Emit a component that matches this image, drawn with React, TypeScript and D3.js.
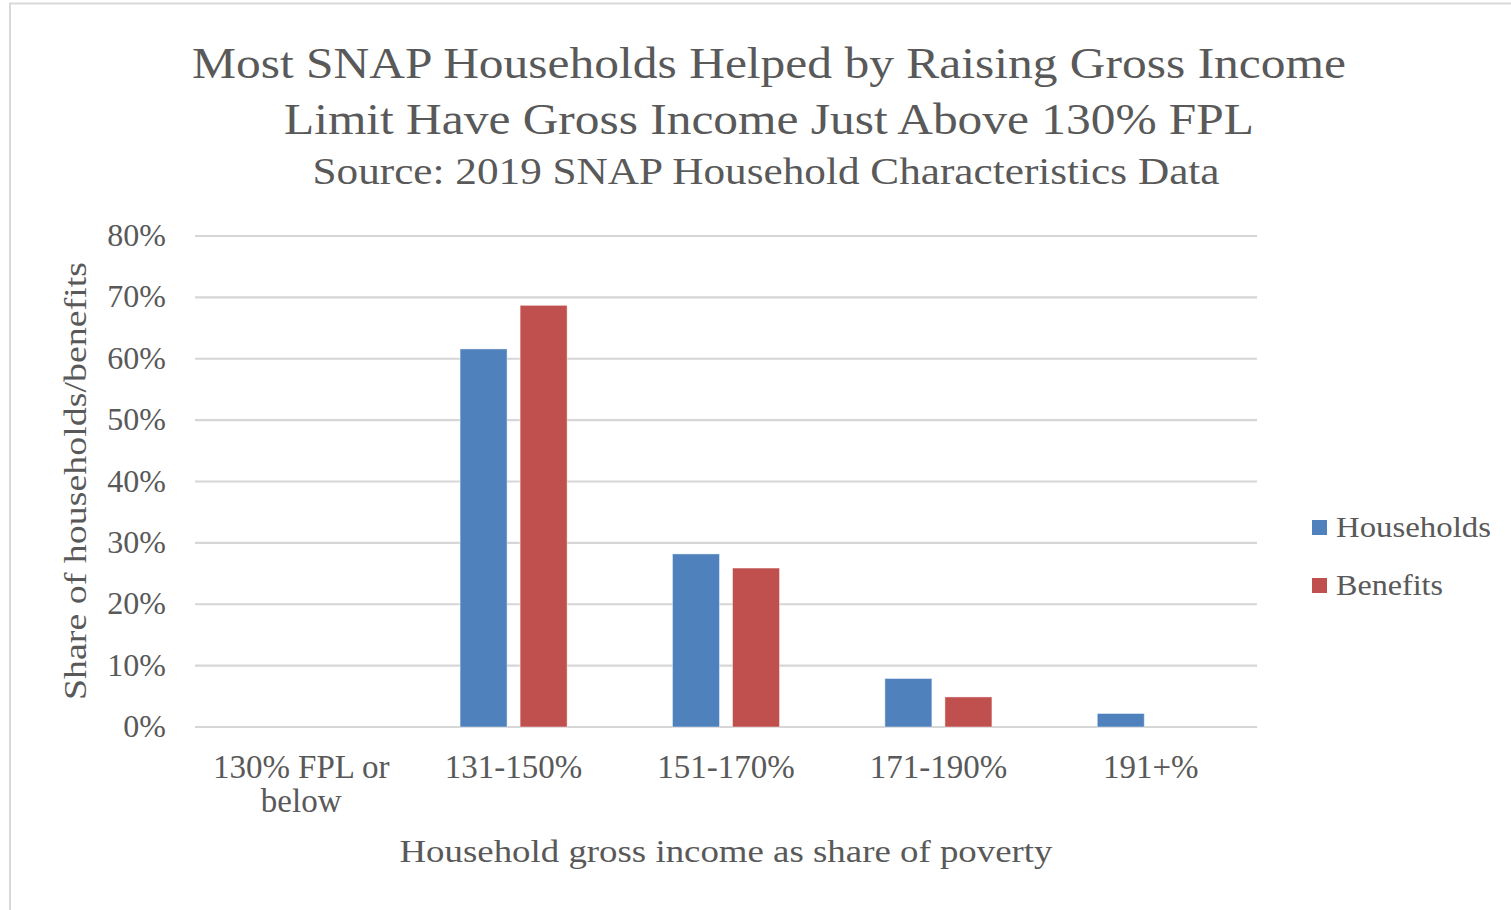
import React, { useEffect, useRef } from 'react';
import * as d3 from 'd3';

const categories: string[] = ['130% FPL or below', '131-150%', '151-170%', '171-190%', '191+%'];
const seriesNames: string[] = ['Households', 'Benefits'];
const households: number[] = [0, 0.616, 0.282, 0.079, 0.022];
const benefits: number[] = [0, 0.687, 0.259, 0.049, 0];
const yTicks: number[] = [0, 0.1, 0.2, 0.3, 0.4, 0.5, 0.6, 0.7, 0.8];
const titleLines: string[] = [
  'Most SNAP Households Helped by Raising Gross Income',
  'Limit Have Gross Income Just Above 130% FPL',
];
const subtitle: string = 'Source: 2019 SNAP Household Characteristics Data';
const xTitle: string = 'Household gross income as share of poverty';
const yTitle: string = 'Share of households/benefits';

const width: number = 1511;
const height: number = 910;
const colors: string[] = ['#4F81BD', '#C0504D'];
const textColor: string = '#595959';
const font: string = '"Liberation Serif", "DejaVu Serif", serif';

const App = () => {
  const ref = useRef<SVGSVGElement>(null);

  useEffect(() => {
    const svg: any = d3.select(ref.current);
    svg.selectAll('*').remove();

    const left = 195, right = 1257, top = 236, bottom = 727;

    // scales
    const x0: any = d3.scaleBand().domain(categories).range([left, right]).paddingInner(0.496).paddingOuter(0.248);
    const x1: any = d3.scaleBand().domain(seriesNames).range([0, x0.bandwidth()]).paddingInner(0.217);
    const y: any = d3.scaleLinear().domain([0, 0.8]).range([bottom, top]);

    // outer chart border
    svg.append('rect')
      .attr('x', 10).attr('y', 3.5)
      .attr('width', width + 20).attr('height', height + 20)
      .attr('fill', '#fff').attr('stroke', '#D9D9D9').attr('stroke-width', 2);

    // titles
    const titleY = [78, 134];
    const titleLen = [1154, 970];
    titleLines.forEach((t, i) => {
      svg.append('text')
        .attr('x', 769).attr('y', titleY[i])
        .attr('text-anchor', 'middle')
        .attr('font-family', font).attr('font-size', 44)
        .attr('fill', textColor)
        .attr('textLength', titleLen[i]).attr('lengthAdjust', 'spacingAndGlyphs')
        .text(t);
    });
    svg.append('text')
      .attr('x', 766).attr('y', 184)
      .attr('text-anchor', 'middle')
      .attr('font-family', font).attr('font-size', 38)
      .attr('fill', textColor)
      .attr('textLength', 907).attr('lengthAdjust', 'spacingAndGlyphs')
      .text(subtitle);

    // gridlines
    svg.append('g').selectAll('line')
      .data(yTicks)
      .enter().append('line')
      .attr('x1', left).attr('x2', right)
      .attr('y1', (d: number) => y(d)).attr('y2', (d: number) => y(d))
      .attr('stroke', '#D6D6D6').attr('stroke-width', 2.2);

    // y tick labels
    svg.append('g').selectAll('text')
      .data(yTicks)
      .enter().append('text')
      .attr('x', 166).attr('y', (d: number) => y(d) + 10)
      .attr('text-anchor', 'end')
      .attr('font-family', font).attr('font-size', 32)
      .attr('fill', textColor)
      .text((d: number) => d3.format('.0%')(d));

    // bars
    const rows = categories.map((c, i) => ({ cat: c, vals: [households[i], benefits[i]] }));
    const groups: any = svg.append('g').selectAll('.bar')
      .data(rows)
      .enter().append('g')
      .classed('bar', true)
      .attr('transform', (d: any) => `translate(${x0(d.cat)},0)`);

    groups.selectAll('rect')
      .data((d: any) => d.vals.map((v: number, j: number) => ({ key: seriesNames[j], v, j })))
      .enter().append('rect')
      .filter((d: any) => d.v > 0)
      .attr('x', (d: any) => x1(d.key))
      .attr('y', (d: any) => y(d.v))
      .attr('width', x1.bandwidth())
      .attr('height', (d: any) => y(0) - y(d.v))
      .attr('fill', (d: any) => colors[d.j])
      .attr('stroke', 'rgba(255,255,255,0.45)')
      .attr('stroke-width', 1);

    // x tick labels
    const xl: any = svg.append('g').selectAll('text')
      .data(categories)
      .enter().append('text')
      .attr('x', (d: string) => x0(d) + x0.bandwidth() / 2)
      .attr('y', 778)
      .attr('text-anchor', 'middle')
      .attr('font-family', font).attr('font-size', 33)
      .attr('fill', textColor);
    xl.each(function (this: any, d: string) {
      const t = d3.select(this);
      const parts = d === '130% FPL or below' ? ['130% FPL or', 'below'] : [d];
      parts.forEach((p, k) => {
        t.append('tspan')
          .attr('x', x0(d) + x0.bandwidth() / 2)
          .attr('dy', k === 0 ? 0 : 34)
          .text(p);
      });
    });

    // axis titles
    svg.append('text')
      .attr('x', 726).attr('y', 862)
      .attr('text-anchor', 'middle')
      .attr('font-family', font).attr('font-size', 31)
      .attr('fill', textColor)
      .attr('textLength', 653).attr('lengthAdjust', 'spacingAndGlyphs')
      .text(xTitle);

    svg.append('text')
      .attr('transform', 'translate(86,481) rotate(-90)')
      .attr('text-anchor', 'middle')
      .attr('font-family', font).attr('font-size', 31)
      .attr('fill', textColor)
      .attr('textLength', 438).attr('lengthAdjust', 'spacingAndGlyphs')
      .text(yTitle);

    // legend
    const legendLen = [155, 107];
    const lg: any = svg.append('g').selectAll('g')
      .data(seriesNames)
      .enter().append('g')
      .attr('transform', (d: string, i: number) => `translate(1312,${520 + i * 58})`);
    lg.append('rect')
      .attr('width', 15).attr('height', 15)
      .attr('fill', (d: string, i: number) => colors[i]);
    lg.append('text')
      .attr('x', 24).attr('y', 17)
      .attr('font-family', font).attr('font-size', 30)
      .attr('fill', textColor)
      .attr('textLength', (d: string, i: number) => legendLen[i]).attr('lengthAdjust', 'spacingAndGlyphs')
      .text((d: string) => d);
  }, []);

  return (
    <svg
      ref={ref}
      width={width}
      height={height}
      style={{ position: 'absolute', left: 0, top: 0, background: '#fff' }}
    />
  );
};

export default App;
